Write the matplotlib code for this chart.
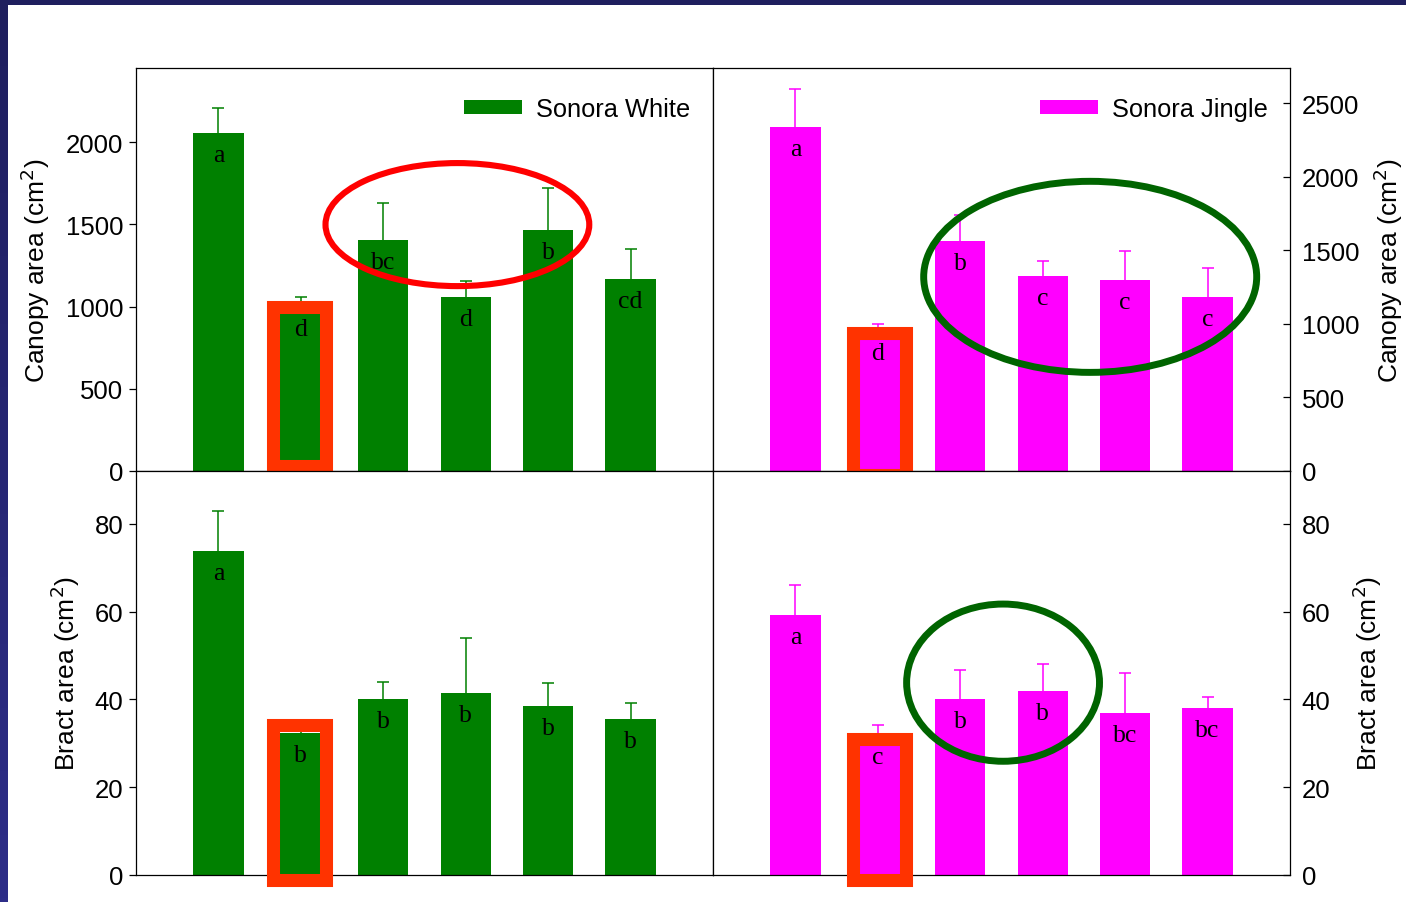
import matplotlib
matplotlib.use('Agg')
import matplotlib.pyplot as plt
import numpy as np
from matplotlib.patches import Rectangle, Ellipse, Patch
from matplotlib.colors import LinearSegmentedColormap

# ---------------- data ----------------
treatments = np.arange(6)

white_canopy = [2055, 1000, 1404, 1056, 1465, 1167]
white_canopy_se = [152, 60, 223, 101, 253, 184]
white_canopy_letters = ['a', 'd', 'bc', 'd', 'b', 'cd']

jingle_canopy = [2338, 950, 1562, 1324, 1297, 1186]
jingle_canopy_se = [256, 50, 179, 107, 202, 193]
jingle_canopy_letters = ['a', 'd', 'b', 'c', 'c', 'c']

white_bract = [73.7, 32.4, 40.0, 41.5, 38.4, 35.6]
white_bract_se = [9.2, 0.5, 3.9, 12.4, 5.3, 3.5]
white_bract_letters = ['a', 'b', 'b', 'b', 'b', 'b']

jingle_bract = [59.3, 32.0, 40.1, 41.9, 36.9, 38.0]
jingle_bract_se = [6.8, 2.2, 6.5, 6.2, 9.0, 2.5]
jingle_bract_letters = ['a', 'c', 'b', 'b', 'bc', 'bc']

canopy_ticks_white = [0, 500, 1000, 1500, 2000]
canopy_ticks_jingle = [0, 500, 1000, 1500, 2000, 2500]
bract_ticks = [0, 20, 40, 60, 80]

GREEN = '#008000'
MAGENTA = '#ff00ff'
SANS = ['Liberation Sans', 'DejaVu Sans']
SERIF = ['Liberation Serif', 'DejaVu Serif']

plt.rcParams['font.family'] = SANS

W, H = 1406, 903
fig = plt.figure(figsize=(W / 100, H / 100), dpi=100, facecolor='white')

# slide background border
grad = np.linspace(0, 1, 256).reshape(-1, 1)
band = fig.add_axes([0, 0, 8 / W, 1])
band.imshow(grad, aspect='auto',
            cmap=LinearSegmentedColormap.from_list('b', ['#1f1f5e', '#2d2d88']))
band.axis('off')
fig.patches.append(Rectangle((0, 1 - 6 / H), 1, 6 / H, transform=fig.transFigure,
                             facecolor='#1f1f5e', edgecolor='none', zorder=10))


def box(x0, y0, x1, y1):
    return [x0 / W, 1 - y1 / H, (x1 - x0) / W, (y1 - y0) / H]


ax_tl = fig.add_axes(box(136, 69, 713, 472))
ax_tr = fig.add_axes(box(713, 69, 1290, 472))
ax_bl = fig.add_axes(box(136, 472, 713, 876))
ax_br = fig.add_axes(box(713, 472, 1290, 876))


def draw(ax, vals, se, letters, color, ylim, ticks, side):
    eb = ax.errorbar(treatments, vals, yerr=[np.zeros(len(se)), se], fmt='none',
                     ecolor=color, elinewidth=1.1, capsize=4.6, capthick=1.1,
                     zorder=1)
    # show only the upper caps
    for cap in eb[1]:
        if np.allclose(cap.get_ydata(), vals):
            cap.set_visible(False)
    ax.bar(treatments, vals, width=0.61, color=color, zorder=2)
    for x, v, l in zip(treatments, vals, letters):
        ax.annotate(l, (x, v), xytext=(0, -8), textcoords='offset points',
                    ha='center', va='top', fontsize=18.5, family=SERIF, zorder=3)
    ax.set_xlim(-1, 6)
    ax.set_ylim(*ylim)
    ax.set_xticks([])
    ax.set_yticks(ticks)
    for s in ax.spines.values():
        s.set_linewidth(0.9)
    if side == 'left':
        ax.tick_params(axis='y', direction='out', length=5, width=0.9,
                       labelsize=18.5, pad=4)
    else:
        ax.yaxis.tick_right()
        ax.yaxis.set_label_position('right')
        ax.tick_params(axis='y', direction='in', length=5, width=0.9,
                       labelsize=18.5, pad=8.5)


draw(ax_tl, white_canopy, white_canopy_se, white_canopy_letters, GREEN,
     (0, 2450), canopy_ticks_white, 'left')
draw(ax_tr, jingle_canopy, jingle_canopy_se, jingle_canopy_letters, MAGENTA,
     (0, 2740), canopy_ticks_jingle, 'right')
draw(ax_bl, white_bract, white_bract_se, white_bract_letters, GREEN,
     (0, 92), bract_ticks, 'left')
draw(ax_br, jingle_bract, jingle_bract_se, jingle_bract_letters, MAGENTA,
     (0, 92), bract_ticks, 'right')

ax_tl.set_ylabel('Canopy area (cm$^2$)', fontsize=19)
ax_tl.yaxis.set_label_coords(-0.1456, 0.5)
ax_bl.set_ylabel('Bract area (cm$^2$)', fontsize=19)
ax_bl.yaxis.set_label_coords(-0.094, 0.5)
ax_tr.set_ylabel('Canopy area (cm$^2$)', fontsize=19)
ax_tr.yaxis.set_label_coords(1.142, 0.5)
ax_br.set_ylabel('Bract area (cm$^2$)', fontsize=19)
ax_br.yaxis.set_label_coords(1.104, 0.5)

for ax, name, color, xa in [(ax_tl, 'Sonora White', GREEN, 0.960),
                            (ax_tr, 'Sonora Jingle', MAGENTA, 0.962)]:
    ax.legend(handles=[Patch(facecolor=color, edgecolor='none', label=name)],
              loc='center right', bbox_to_anchor=(xa, 0.898), frameon=False,
              fontsize=18.3, handlelength=2.28, handleheight=0.47,
              handletextpad=0.55, borderpad=0, borderaxespad=0)

# highlight shapes (annotations)
RECT_C = '#ff3300'
for ax, xc, y0, y1 in [(ax_tl, 0.98, 32, 994), (ax_tr, 1.024, -24, 935),
                       (ax_bl, 0.98, -1.03, 34.1), (ax_br, 1.024, -1.03, 31.0)]:
    ax.add_patch(Rectangle((xc - 0.321, y0), 0.642, y1 - y0, fill=False,
                           edgecolor=RECT_C, linewidth=9.4, joinstyle='miter',
                           clip_on=False, zorder=5))

ax_tl.add_patch(Ellipse((2.899, 1498), 3.2, 748, fill=False, edgecolor='#ff0000',
                        linewidth=4.4, clip_on=False, zorder=6))
ax_tr.add_patch(Ellipse((3.576, 1320), 4.04, 1299, fill=False, edgecolor='#006400',
                        linewidth=5.0, clip_on=False, zorder=6))
ax_br.add_patch(Ellipse((2.519, 43.8), 2.34, 35.8, fill=False, edgecolor='#006400',
                        linewidth=5.0, clip_on=False, zorder=6))

fig.savefig('out.png', dpi=100, facecolor='white')
